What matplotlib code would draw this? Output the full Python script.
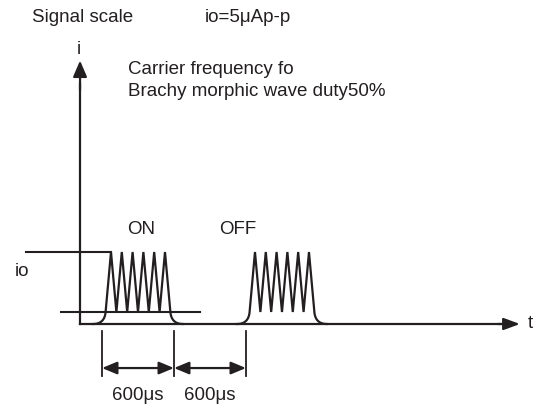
import numpy as np
import matplotlib.pyplot as plt

plt.rcParams['font.family'] = ['Liberation Sans', 'DejaVu Sans']

# time in microseconds, current in microamps (schematic levels)
period = 1200            # ON 600us + OFF 600us
burst_starts = [0, 1200] # where each drawn burst begins
peak_times = [75, 165, 255, 345, 435, 525]   # carrier peaks inside a burst
valley_times = [120, 210, 300, 390, 480]
foot_times = [30, 570]   # where the burst leaves / returns to the low level
edge_times = [-75, 675]  # rounded corners meet the time axis
i_low = 1.0
i_high = 6.0             # io level
dim_ticks = [0, 600, 1200]
dim_labels = ['600\u03bcs', '600\u03bcs']

ink = '#231f20'
W, H = 536, 405

fig = plt.figure(figsize=(W / 100, H / 100), dpi=100)
ax = fig.add_axes([0, 0, 1, 1])
# map so that 600us ~ 72 px and 1uA ~ 12 px
ax.set_xlim(-850, 3617)
ax.set_ylim(-6.75, 27.0)
ax.axis('off')


def bezier(p0, p1, p2, n=30):
    t = np.linspace(0, 1, n)[:, None]
    return (1 - t) ** 2 * np.array(p0) + 2 * (1 - t) * t * np.array(p1) + t ** 2 * np.array(p2)


def burst(t0):
    # rounded rise from the axis
    rise = bezier((edge_times[0], 0), (foot_times[0] - 9, 0), (foot_times[0], i_low))
    fall = bezier((foot_times[1], i_low), (foot_times[1] + 9, 0), (edge_times[1], 0))
    xs = [foot_times[0]]
    ys = [i_low]
    for k, p in enumerate(peak_times):
        xs.append(p)
        ys.append(i_high)
        if k < len(valley_times):
            xs.append(valley_times[k])
            ys.append(i_low)
    xs.append(foot_times[1])
    ys.append(i_low)
    x = np.concatenate([rise[:, 0], xs, fall[:, 0]]) + t0
    y = np.concatenate([rise[:, 1], ys, fall[:, 1]])
    ax.plot(x, y, color=ink, lw=1.6, solid_joinstyle='miter')


for t0 in burst_starts:
    burst(t0)

# level lines
ax.plot([-633, 75], [i_high, i_high], color=ink, lw=1.5)
ax.plot([-342, 817], [i_low, i_low], color=ink, lw=1.5)

# axes with arrows
ax.plot([-183, -183], [0, 20.0], color=ink, lw=1.6)
ax.annotate('', xy=(-183, 21.95), xytext=(-183, 19.5),
            arrowprops=dict(arrowstyle='-|>,head_length=0.65,head_width=0.28',
                            mutation_scale=15, color=ink, lw=1.6,
                            shrinkA=0, shrinkB=0))
ax.plot([-183, 3400], [0, 0], color=ink, lw=1.6)
ax.annotate('', xy=(3483, 0), xytext=(3300, 0),
            arrowprops=dict(arrowstyle='-|>,head_length=0.65,head_width=0.24',
                            mutation_scale=15, color=ink, lw=1.6,
                            shrinkA=0, shrinkB=0))

# dimension lines
for t in dim_ticks:
    ax.plot([t, t], [-0.55, -4.35], color=ink, lw=1.3)
for k in range(len(dim_labels)):
    a, b = dim_ticks[k], dim_ticks[k + 1]
    ax.annotate('', xy=(b, -3.67), xytext=(a, -3.67),
                arrowprops=dict(arrowstyle='<|-|>,head_length=0.6,head_width=0.25',
                                mutation_scale=15, color=ink, lw=1.6,
                                shrinkA=0, shrinkB=0))
    ax.text((a + b) / 2, -6.0, dim_labels[k], ha='center', va='center',
            fontsize=13.5, color=ink)


def px(x, y):
    return x / W, 1 - y / H


txt = dict(fontsize=13.5, color=ink, transform=fig.transFigure)
fig.text(*px(32, 17), 'Signal scale', ha='left', va='center', **txt)
fig.text(*px(205, 17), 'io=5\u03bcAp-p', ha='left', va='center', **txt)
fig.text(*px(79, 49), 'i', ha='center', va='center', **txt)
fig.text(*px(128, 69), 'Carrier frequency fo', ha='left', va='center', **txt)
fig.text(*px(128, 92), 'Brachy morphic wave duty50%', ha='left', va='center', **txt)
fig.text(*px(141, 230), 'ON', ha='center', va='center', **txt)
fig.text(*px(238, 230), 'OFF', ha='center', va='center', **txt)
fig.text(*px(22, 271), 'io', ha='center', va='center', **txt)
fig.text(*px(530, 324), 't', ha='center', va='center', **txt)

fig.savefig('out.png', dpi=100)
